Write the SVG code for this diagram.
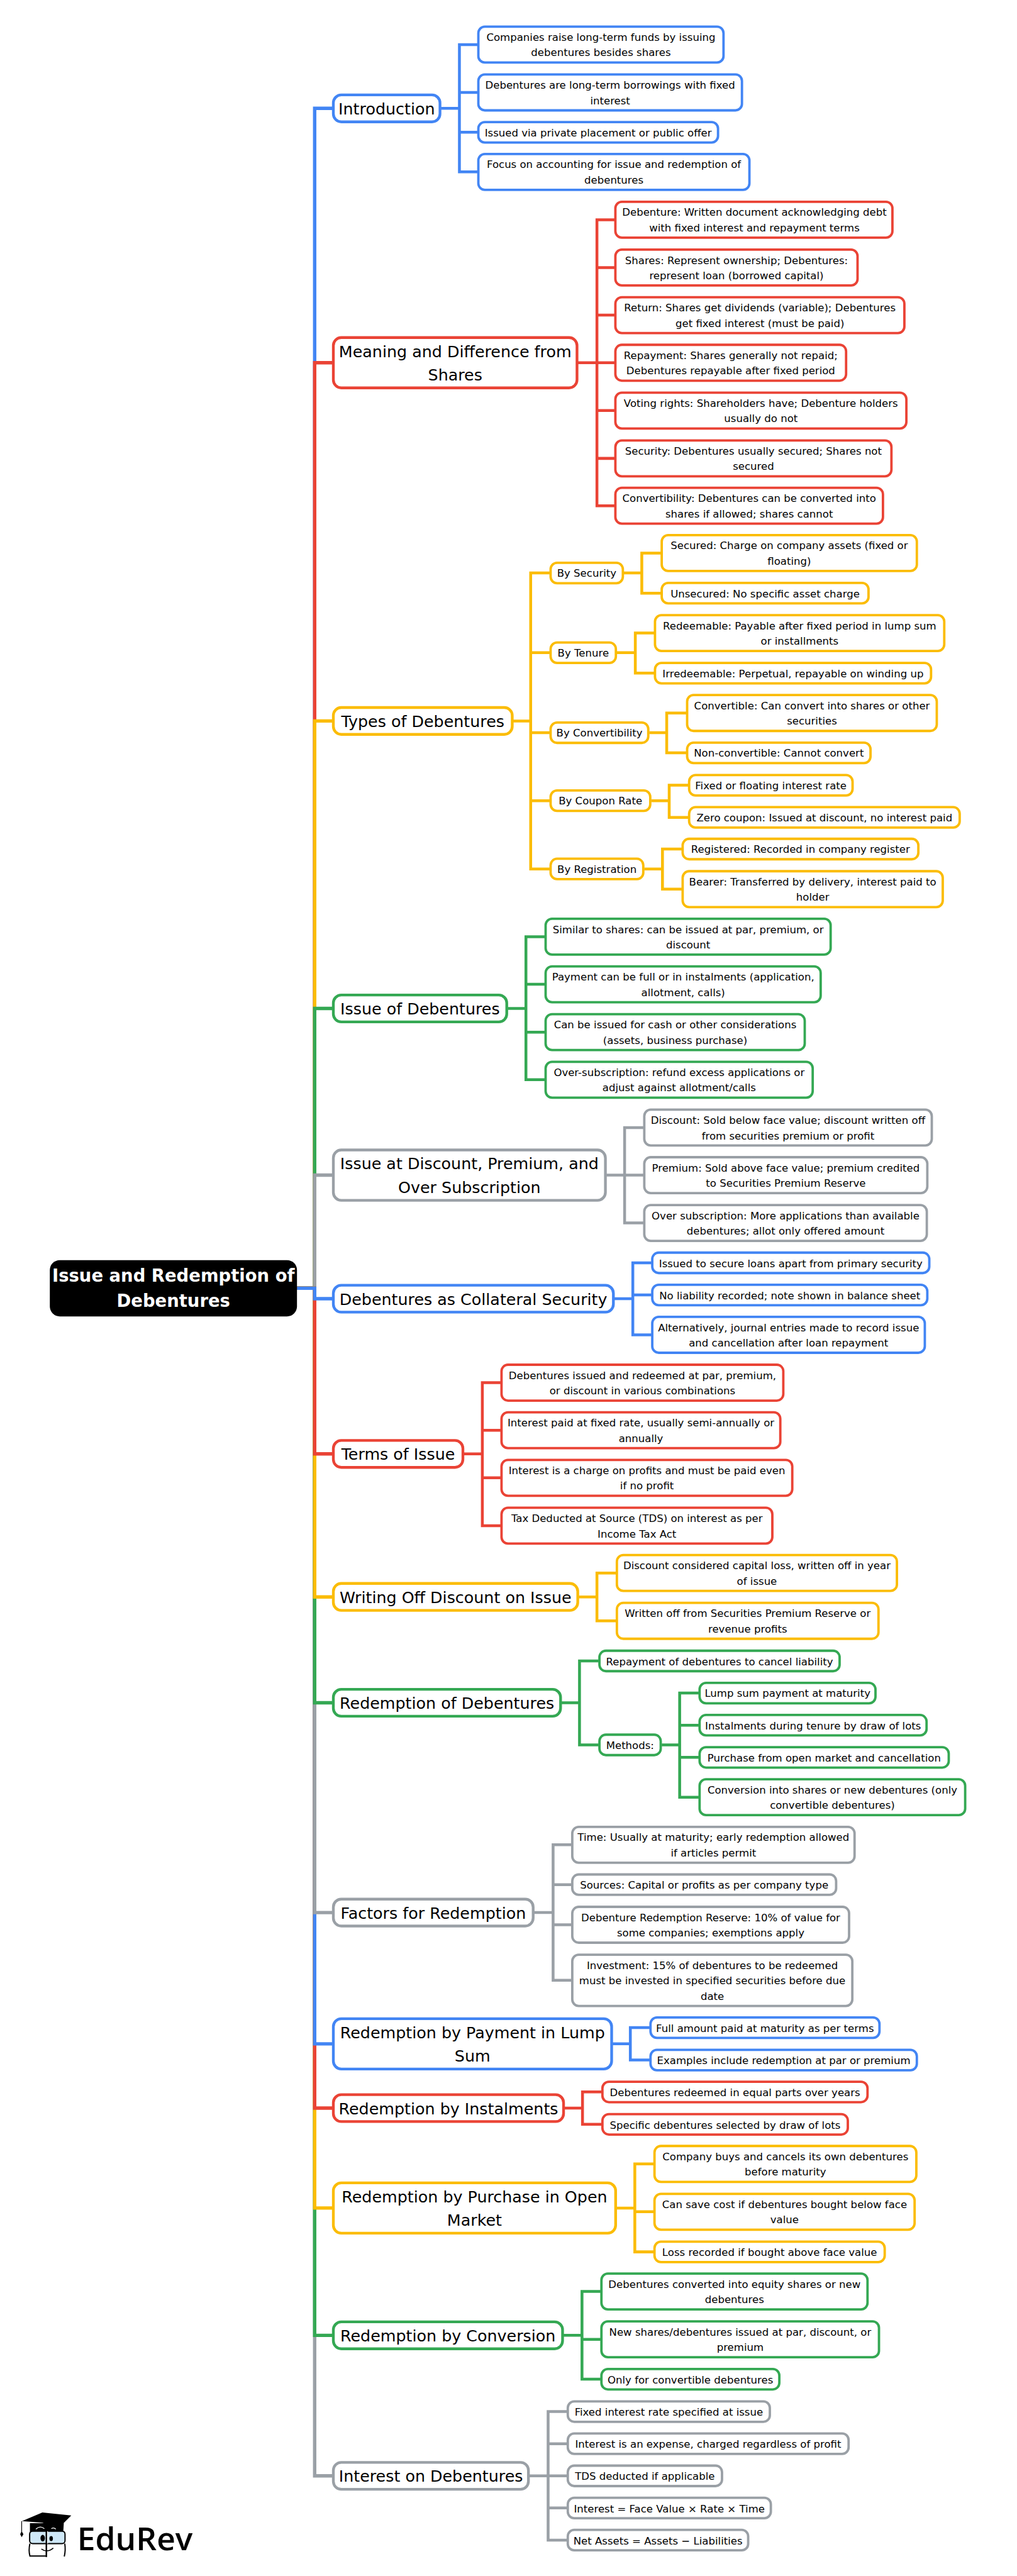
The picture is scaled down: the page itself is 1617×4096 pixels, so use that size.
<svg xmlns="http://www.w3.org/2000/svg" width="1617" height="4096" viewBox="0 0 1617 4096">
<style>
text{font-family:"DejaVu Sans","Liberation Sans",sans-serif;fill:#000;text-anchor:middle}
.s{font-size:20.9px}
.h{font-size:32px}
.n rect{fill:#fff;stroke-width:4.8;rx:13px}
.t rect{rx:16px;stroke-width:5.5}
.b rect{stroke:#4285F4}.r rect{stroke:#EA4335}.y rect{stroke:#FBBC04}.g rect{stroke:#34A853}.a rect{stroke:#9AA0A6}
#connectors path{fill:none;stroke-width:5.7}
#connectors .m path{stroke-width:6.8}
path.b{stroke:#4285F4}path.r{stroke:#EA4335}path.y{stroke:#FBBC04}path.g{stroke:#34A853}path.a{stroke:#9AA0A6}
#root rect{fill:#000}
#root text{fill:#fff;font-size:34.67px;font-weight:700}
#logo text{font-family:"Open Sans","Liberation Sans",sans-serif;font-weight:600;font-size:65px;text-anchor:start}
</style>
<g transform="scale(0.79226)">
<g id="connectors">
<g class="m">
<path class="b" d="M596 2585.5H631.5V217.5H669"/>
<path class="r" d="M596 2585.5H631.5V728H669"/>
<path class="y" d="M596 2585.5H631.5V1447H669"/>
<path class="g" d="M596 2585.5H631.5V2024H669"/>
<path class="a" d="M596 2585.5H631.5V2358.5H669"/>
<path class="a" d="M596 2585.5H631.5V4969H669"/>
<path class="g" d="M596 2585.5H631.5V4687H669"/>
<path class="y" d="M596 2585.5H631.5V4431.5H669"/>
<path class="r" d="M596 2585.5H631.5V4231H669"/>
<path class="b" d="M596 2585.5H631.5V4102H669"/>
<path class="a" d="M596 2585.5H631.5V3838.5H669"/>
<path class="g" d="M596 2585.5H631.5V3417.5H669"/>
<path class="y" d="M596 2585.5H631.5V3205H669"/>
<path class="r" d="M596 2585.5H631.5V2918H669"/>
<path class="b" d="M596 2585.5H631.5V2606.5H669"/>
</g>
<path class="b" d="M885 217.5H922V89.5H960M885 217.5H922V185.5H960M885 217.5H922V265.5H960M885 217.5H922V345H960"/>
<path class="r" d="M1160 728H1198V441H1235M1160 728H1198V537H1235M1160 728H1198V632.5H1235M1160 728H1235M1160 728H1198V824H1235M1160 728H1198V920H1235M1160 728H1198V1015H1235"/>
<path class="y" d="M1030 1447H1065V1150H1105M1030 1447H1065V1310H1105M1030 1447H1065V1470.5H1105M1030 1447H1065V1607H1105M1030 1447H1065V1744H1105"/>
<path class="y" d="M1252 1150H1288V1110H1328M1252 1150H1288V1190.5H1328"/>
<path class="y" d="M1238 1310H1275V1270.5H1314.5M1238 1310H1275V1351H1314.5"/>
<path class="y" d="M1303 1470.5H1338V1431H1379M1303 1470.5H1338V1511H1379"/>
<path class="y" d="M1307 1607H1343V1576H1383M1307 1607H1343V1640.5H1383"/>
<path class="y" d="M1293 1744H1329.5V1704H1370M1293 1744H1329.5V1784.5H1370"/>
<path class="g" d="M1019 2024H1055.5V1880H1095M1019 2024H1055.5V1975.5H1095M1019 2024H1055.5V2071.5H1095M1019 2024H1055.5V2167H1095"/>
<path class="a" d="M1217 2358.5H1253.5V2263H1293M1217 2358.5H1293M1217 2358.5H1253.5V2454.5H1293"/>
<path class="b" d="M1233 2606.5H1270V2534.5H1309M1233 2606.5H1270V2599H1309M1233 2606.5H1270V2679H1309"/>
<path class="r" d="M931 2918H968V2775H1006.5M931 2918H968V2870.5H1006.5M931 2918H968V2966H1006.5M931 2918H968V3062H1006.5"/>
<path class="y" d="M1161.5 3205H1198V3157H1238M1161.5 3205H1198V3253H1238"/>
<path class="g" d="M1127 3417.5H1163V3333.5H1203M1127 3417.5H1163V3502H1203"/>
<path class="g" d="M1328 3502H1364V3398H1404M1328 3502H1364V3462.5H1404M1328 3502H1364V3527H1404M1328 3502H1364V3607H1404"/>
<path class="a" d="M1072 3838.5H1110V3702.5H1148.5M1072 3838.5H1110V3782.5H1148.5M1072 3838.5H1110V3863H1148.5M1072 3838.5H1110V3974.5H1148.5"/>
<path class="b" d="M1229.5 4102H1265V4069.5H1305.5M1229.5 4102H1265V4134.5H1305.5"/>
<path class="r" d="M1133 4231H1169V4198.5H1209M1133 4231H1169V4263.5H1209"/>
<path class="y" d="M1237.5 4431.5H1274V4343H1313.5M1237.5 4431.5H1274V4439H1313.5M1237.5 4431.5H1274V4519.5H1313.5"/>
<path class="g" d="M1131 4687H1168V4599H1207M1131 4687H1168V4695H1207M1131 4687H1168V4775H1207"/>
<path class="a" d="M1062.5 4969H1100V4840H1139.5M1062.5 4969H1100V4904.5H1139.5M1062.5 4969H1139.5M1062.5 4969H1100V5033.5H1139.5M1062.5 4969H1100V5098H1139.5"/>
</g>

<g id="root"><rect x="100" y="2529" width="496" height="113" rx="20"/><text x="348" y="2572">Issue and Redemption of<tspan x="348" dy="50.5">Debentures</tspan></text></g>

<g id="introduction" class="n t b"><rect x="669" y="190.5" width="214" height="54"/><text class="h" x="776" y="229.5">Introduction</text></g>
<g id="intro-1" class="n b"><rect x="960" y="53.5" width="492" height="72"/><text class="s" x="1206" y="81.5">Companies raise long-term funds by issuing<tspan x="1206" dy="31">debentures besides shares</tspan></text></g>
<g id="intro-2" class="n b"><rect x="960" y="149.5" width="529" height="72"/><text class="s" x="1224.5" y="178">Debentures are long-term borrowings with fixed<tspan x="1224.5" dy="31">interest</tspan></text></g>
<g id="intro-3" class="n b"><rect x="960" y="245" width="481" height="41"/><text class="s" x="1200.5" y="273.5">Issued via private placement or public offer</text></g>
<g id="intro-4" class="n b"><rect x="960" y="309" width="544" height="72"/><text class="s" x="1232" y="337.5">Focus on accounting for issue and redemption of<tspan x="1232" dy="31">debentures</tspan></text></g>

<g id="meaning" class="n t r"><rect x="669" y="677.5" width="489" height="101"/><text class="h" x="913.5" y="716.5">Meaning and Difference from<tspan x="913.5" dy="47">Shares</tspan></text></g>
<g id="meaning-1" class="n r"><rect x="1235" y="405" width="556" height="72"/><text class="s" x="1514" y="433.5">Debenture: Written document acknowledging debt<tspan x="1514" dy="31">with fixed interest and repayment terms</tspan></text></g>
<g id="meaning-2" class="n r"><rect x="1235" y="501" width="486" height="72"/><text class="s" x="1478" y="529.5">Shares: Represent ownership; Debentures:<tspan x="1478" dy="31">represent loan (borrowed capital)</tspan></text></g>
<g id="meaning-3" class="n r"><rect x="1235" y="596.5" width="580" height="72"/><text class="s" x="1525" y="625">Return: Shares get dividends (variable); Debentures<tspan x="1525" dy="31">get fixed interest (must be paid)</tspan></text></g>
<g id="meaning-4" class="n r"><rect x="1235" y="692" width="463" height="72"/><text class="s" x="1466.5" y="720.5">Repayment: Shares generally not repaid;<tspan x="1466.5" dy="31">Debentures repayable after fixed period</tspan></text></g>
<g id="meaning-5" class="n r"><rect x="1235" y="788" width="584" height="72"/><text class="s" x="1527" y="816.5">Voting rights: Shareholders have; Debenture holders<tspan x="1527" dy="31">usually do not</tspan></text></g>
<g id="meaning-6" class="n r"><rect x="1235" y="884" width="554" height="72"/><text class="s" x="1512" y="912.5">Security: Debentures usually secured; Shares not<tspan x="1512" dy="31">secured</tspan></text></g>
<g id="meaning-7" class="n r"><rect x="1235" y="979" width="537" height="72"/><text class="s" x="1503.5" y="1007.5">Convertibility: Debentures can be converted into<tspan x="1503.5" dy="31">shares if allowed; shares cannot</tspan></text></g>

<g id="types" class="n t y"><rect x="669" y="1420" width="359" height="54"/><text class="h" x="848.5" y="1459">Types of Debentures</text></g>
<g id="by-security" class="n y"><rect x="1105" y="1129.5" width="145" height="41"/><text class="s" x="1177.5" y="1158">By Security</text></g>
<g id="secured" class="n y"><rect x="1328" y="1074" width="512" height="72"/><text class="s" x="1584" y="1102.5">Secured: Charge on company assets (fixed or<tspan x="1584" dy="31">floating)</tspan></text></g>
<g id="unsecured" class="n y"><rect x="1328" y="1170" width="415" height="41"/><text class="s" x="1535.5" y="1198.5">Unsecured: No specific asset charge</text></g>
<g id="by-tenure" class="n y"><rect x="1105" y="1289.5" width="131" height="41"/><text class="s" x="1170.5" y="1318">By Tenure</text></g>
<g id="redeemable" class="n y"><rect x="1314.5" y="1234.5" width="580.5" height="72"/><text class="s" x="1604.75" y="1263">Redeemable: Payable after fixed period in lump sum<tspan x="1604.75" dy="31">or installments</tspan></text></g>
<g id="irredeemable" class="n y"><rect x="1314.5" y="1330.5" width="554" height="41"/><text class="s" x="1591.5" y="1359">Irredeemable: Perpetual, repayable on winding up</text></g>
<g id="by-convertibility" class="n y"><rect x="1105" y="1450" width="196" height="41"/><text class="s" x="1203" y="1478.5">By Convertibility</text></g>
<g id="convertible" class="n y"><rect x="1379" y="1395" width="501" height="72"/><text class="s" x="1629.5" y="1423.5">Convertible: Can convert into shares or other<tspan x="1629.5" dy="31">securities</tspan></text></g>
<g id="non-convertible" class="n y"><rect x="1379" y="1490.5" width="368" height="41"/><text class="s" x="1563" y="1519">Non-convertible: Cannot convert</text></g>
<g id="by-coupon" class="n y"><rect x="1105" y="1586.5" width="200" height="41"/><text class="s" x="1205" y="1615">By Coupon Rate</text></g>
<g id="fixed-floating" class="n y"><rect x="1383" y="1555.5" width="328" height="41"/><text class="s" x="1547" y="1584">Fixed or floating interest rate</text></g>
<g id="zero-coupon" class="n y"><rect x="1383" y="1620" width="543" height="41"/><text class="s" x="1654.5" y="1648.5">Zero coupon: Issued at discount, no interest paid</text></g>
<g id="by-registration" class="n y"><rect x="1105" y="1723.5" width="186" height="41"/><text class="s" x="1198" y="1752">By Registration</text></g>
<g id="registered" class="n y"><rect x="1370" y="1683.5" width="473" height="41"/><text class="s" x="1606.5" y="1712">Registered: Recorded in company register</text></g>
<g id="bearer" class="n y"><rect x="1370" y="1748.5" width="522" height="72"/><text class="s" x="1631" y="1777">Bearer: Transferred by delivery, interest paid to<tspan x="1631" dy="31">holder</tspan></text></g>

<g id="issue" class="n t g"><rect x="669" y="1997" width="348" height="54"/><text class="h" x="843" y="2036">Issue of Debentures</text></g>
<g id="issue-1" class="n g"><rect x="1095" y="1844" width="572" height="72"/><text class="s" x="1381" y="1872.5">Similar to shares: can be issued at par, premium, or<tspan x="1381" dy="31">discount</tspan></text></g>
<g id="issue-2" class="n g"><rect x="1095" y="1939.5" width="552" height="72"/><text class="s" x="1371" y="1968">Payment can be full or in instalments (application,<tspan x="1371" dy="31">allotment, calls)</tspan></text></g>
<g id="issue-3" class="n g"><rect x="1095" y="2035.5" width="520" height="72"/><text class="s" x="1355" y="2064">Can be issued for cash or other considerations<tspan x="1355" dy="31">(assets, business purchase)</tspan></text></g>
<g id="issue-4" class="n g"><rect x="1095" y="2131" width="536" height="72"/><text class="s" x="1363" y="2159.5">Over-subscription: refund excess applications or<tspan x="1363" dy="31">adjust against allotment/calls</tspan></text></g>

<g id="discount" class="n t a"><rect x="669" y="2308" width="546" height="101"/><text class="h" x="942" y="2347">Issue at Discount, Premium, and<tspan x="942" dy="47">Over Subscription</tspan></text></g>
<g id="discount-1" class="n a"><rect x="1293" y="2227" width="577" height="72"/><text class="s" x="1581.5" y="2255.5">Discount: Sold below face value; discount written off<tspan x="1581.5" dy="31">from securities premium or profit</tspan></text></g>
<g id="discount-2" class="n a"><rect x="1293" y="2322.5" width="568" height="72"/><text class="s" x="1577" y="2351">Premium: Sold above face value; premium credited<tspan x="1577" dy="31">to Securities Premium Reserve</tspan></text></g>
<g id="discount-3" class="n a"><rect x="1293" y="2418.5" width="567" height="72"/><text class="s" x="1576.5" y="2447">Over subscription: More applications than available<tspan x="1576.5" dy="31">debentures; allot only offered amount</tspan></text></g>

<g id="collateral" class="n t b"><rect x="669" y="2579.5" width="562" height="54"/><text class="h" x="950" y="2618.5">Debentures as Collateral Security</text></g>
<g id="collateral-1" class="n b"><rect x="1309" y="2514" width="556" height="41"/><text class="s" x="1587" y="2543">Issued to secure loans apart from primary security</text></g>
<g id="collateral-2" class="n b"><rect x="1309" y="2578.5" width="552" height="41"/><text class="s" x="1585" y="2607.5">No liability recorded; note shown in balance sheet</text></g>
<g id="collateral-3" class="n b"><rect x="1309" y="2643" width="547" height="72"/><text class="s" x="1582.5" y="2671.5">Alternatively, journal entries made to record issue<tspan x="1582.5" dy="31">and cancellation after loan repayment</tspan></text></g>

<g id="terms" class="n t r"><rect x="669" y="2891" width="260" height="54"/><text class="h" x="799" y="2930">Terms of Issue</text></g>
<g id="terms-1" class="n r"><rect x="1006.5" y="2739" width="565.5" height="72"/><text class="s" x="1289.25" y="2767.5">Debentures issued and redeemed at par, premium,<tspan x="1289.25" dy="31">or discount in various combinations</tspan></text></g>
<g id="terms-2" class="n r"><rect x="1006.5" y="2834.5" width="559.5" height="72"/><text class="s" x="1286.25" y="2863">Interest paid at fixed rate, usually semi-annually or<tspan x="1286.25" dy="31">annually</tspan></text></g>
<g id="terms-3" class="n r"><rect x="1006.5" y="2930" width="583.5" height="72"/><text class="s" x="1298.25" y="2958.5">Interest is a charge on profits and must be paid even<tspan x="1298.25" dy="31">if no profit</tspan></text></g>
<g id="terms-4" class="n r"><rect x="1006.5" y="3026" width="543.5" height="72"/><text class="s" x="1278.25" y="3054.5">Tax Deducted at Source (TDS) on interest as per<tspan x="1278.25" dy="31">Income Tax Act</tspan></text></g>

<g id="writing-off" class="n t y"><rect x="669" y="3178" width="490.5" height="54"/><text class="h" x="914.25" y="3217">Writing Off Discount on Issue</text></g>
<g id="writing-1" class="n y"><rect x="1238" y="3121" width="562" height="72"/><text class="s" x="1519" y="3149.5">Discount considered capital loss, written off in year<tspan x="1519" dy="31">of issue</tspan></text></g>
<g id="writing-2" class="n y"><rect x="1238" y="3217" width="525" height="72"/><text class="s" x="1500.5" y="3245.5">Written off from Securities Premium Reserve or<tspan x="1500.5" dy="31">revenue profits</tspan></text></g>

<g id="redemption" class="n t g"><rect x="669" y="3390.5" width="456" height="54"/><text class="h" x="897" y="3429.5">Redemption of Debentures</text></g>
<g id="redemption-1" class="n g"><rect x="1203" y="3313" width="482" height="41"/><text class="s" x="1444" y="3342">Repayment of debentures to cancel liability</text></g>
<g id="methods" class="n g"><rect x="1203" y="3481.5" width="123" height="41"/><text class="s" x="1264.5" y="3510">Methods:</text></g>
<g id="method-1" class="n g"><rect x="1404" y="3377.5" width="353" height="41"/><text class="s" x="1580.5" y="3406">Lump sum payment at maturity</text></g>
<g id="method-2" class="n g"><rect x="1404" y="3442" width="455.5" height="41"/><text class="s" x="1631.75" y="3471">Instalments during tenure by draw of lots</text></g>
<g id="method-3" class="n g"><rect x="1404" y="3506.5" width="500" height="41"/><text class="s" x="1654" y="3535.5">Purchase from open market and cancellation</text></g>
<g id="method-4" class="n g"><rect x="1404" y="3571" width="533" height="72"/><text class="s" x="1670.5" y="3599.5">Conversion into shares or new debentures (only<tspan x="1670.5" dy="31">convertible debentures)</tspan></text></g>

<g id="factors" class="n t a"><rect x="669" y="3811.5" width="401" height="54"/><text class="h" x="869.5" y="3850.5">Factors for Redemption</text></g>
<g id="factors-1" class="n a"><rect x="1148.5" y="3666.5" width="566.5" height="72"/><text class="s" x="1431.75" y="3695">Time: Usually at maturity; early redemption allowed<tspan x="1431.75" dy="31">if articles permit</tspan></text></g>
<g id="factors-2" class="n a"><rect x="1148.5" y="3762" width="529.5" height="41"/><text class="s" x="1413.25" y="3791">Sources: Capital or profits as per company type</text></g>
<g id="factors-3" class="n a"><rect x="1148.5" y="3827" width="555.5" height="72"/><text class="s" x="1426.25" y="3855.5">Debenture Redemption Reserve: 10% of value for<tspan x="1426.25" dy="31">some companies; exemptions apply</tspan></text></g>
<g id="factors-4" class="n a"><rect x="1148.5" y="3923" width="562" height="103"/><text class="s" x="1429.5" y="3951.5">Investment: 15% of debentures to be redeemed<tspan x="1429.5" dy="31">must be invested in specified securities before due</tspan><tspan x="1429.5" dy="31">date</tspan></text></g>

<g id="lump" class="n t b"><rect x="669" y="4051.5" width="558.5" height="101"/><text class="h" x="948.25" y="4090.5">Redemption by Payment in Lump<tspan x="948.25" dy="47">Sum</tspan></text></g>
<g id="lump-1" class="n b"><rect x="1305.5" y="4049" width="459.5" height="41"/><text class="s" x="1535.25" y="4078">Full amount paid at maturity as per terms</text></g>
<g id="lump-2" class="n b"><rect x="1305.5" y="4114" width="534.5" height="41"/><text class="s" x="1572.75" y="4143">Examples include redemption at par or premium</text></g>

<g id="instalments" class="n t r"><rect x="669" y="4204" width="462" height="54"/><text class="h" x="900" y="4243">Redemption by Instalments</text></g>
<g id="instalments-1" class="n r"><rect x="1209" y="4178" width="532" height="41"/><text class="s" x="1475" y="4207">Debentures redeemed in equal parts over years</text></g>
<g id="instalments-2" class="n r"><rect x="1209" y="4243" width="492.5" height="41"/><text class="s" x="1455.25" y="4272">Specific debentures selected by draw of lots</text></g>

<g id="purchase" class="n t y"><rect x="669" y="4381" width="566.5" height="101"/><text class="h" x="952.25" y="4420">Redemption by Purchase in Open<tspan x="952.25" dy="47">Market</tspan></text></g>
<g id="purchase-1" class="n y"><rect x="1313.5" y="4307" width="525.5" height="72"/><text class="s" x="1576.25" y="4335.5">Company buys and cancels its own debentures<tspan x="1576.25" dy="31">before maturity</tspan></text></g>
<g id="purchase-2" class="n y"><rect x="1313.5" y="4403" width="522" height="72"/><text class="s" x="1574.5" y="4431.5">Can save cost if debentures bought below face<tspan x="1574.5" dy="31">value</tspan></text></g>
<g id="purchase-3" class="n y"><rect x="1313.5" y="4499" width="462" height="41"/><text class="s" x="1544.5" y="4528">Loss recorded if bought above face value</text></g>

<g id="conversion" class="n t g"><rect x="669" y="4660" width="460" height="54"/><text class="h" x="899" y="4699">Redemption by Conversion</text></g>
<g id="conversion-1" class="n g"><rect x="1207" y="4563" width="534" height="72"/><text class="s" x="1474" y="4591.5">Debentures converted into equity shares or new<tspan x="1474" dy="31">debentures</tspan></text></g>
<g id="conversion-2" class="n g"><rect x="1207" y="4659" width="557" height="72"/><text class="s" x="1485.5" y="4687.5">New shares/debentures issued at par, discount, or<tspan x="1485.5" dy="31">premium</tspan></text></g>
<g id="conversion-3" class="n g"><rect x="1207" y="4754.5" width="357" height="41"/><text class="s" x="1385.5" y="4783.5">Only for convertible debentures</text></g>

<g id="interest" class="n t a"><rect x="669" y="4942" width="391.5" height="54"/><text class="h" x="864.75" y="4981">Interest on Debentures</text></g>
<g id="interest-1" class="n a"><rect x="1139.5" y="4819.5" width="405.5" height="41"/><text class="s" x="1342.25" y="4848.5">Fixed interest rate specified at issue</text></g>
<g id="interest-2" class="n a"><rect x="1139.5" y="4884" width="563.5" height="41"/><text class="s" x="1421.25" y="4913">Interest is an expense, charged regardless of profit</text></g>
<g id="interest-3" class="n a"><rect x="1139.5" y="4948.5" width="309.5" height="41"/><text class="s" x="1294.25" y="4977.5">TDS deducted if applicable</text></g>
<g id="interest-4" class="n a"><rect x="1139.5" y="5013" width="407.5" height="41"/><text class="s" x="1343.25" y="5042">Interest = Face Value × Rate × Time</text></g>
<g id="interest-5" class="n a"><rect x="1139.5" y="5077.5" width="362" height="41"/><text class="s" x="1320.5" y="5106.5">Net Assets = Assets − Liabilities</text></g>

<g id="logo">
<path d="M60 5064H128L127 5081H60Z" fill="#000"/>
<path d="M44 5060L85 5042.5L143 5048.5L118 5073.5L85 5063Z" fill="#000"/>
<path d="M72 5076Q80 5068 89 5075M103 5075Q108 5072 112 5076" fill="none" stroke="#fff" stroke-width="1.5"/>
<path d="M43.5 5060V5082" stroke="#000" stroke-width="1.5" fill="none"/>
<path d="M43.5 5080L47 5086L43.5 5092L40.5 5086Z" fill="#000"/>
<rect x="59.5" y="5080" width="71" height="25" rx="6" fill="#CFE8F7" stroke="#000" stroke-width="2.5"/>
<path d="M60 5105Q57 5118 60 5130H92M130 5105Q132 5118 129 5131" fill="none" stroke="#000" stroke-width="2.5"/>
<path d="M93 5078V5132" stroke="#000" stroke-width="3" fill="none"/>
<path d="M95.5 5080V5105" stroke="#fff" stroke-width="1.5" fill="none"/>
<ellipse cx="85.7" cy="5094" rx="4.5" ry="6.5" fill="#000"/>
<ellipse cx="102.7" cy="5095" rx="3.5" ry="5" fill="#000"/>
<path d="M83 5116Q95 5124 107 5114" fill="none" stroke="#000" stroke-width="2"/>
<text x="155" y="5118">EduRev</text>
</g>
</g>
</svg>
